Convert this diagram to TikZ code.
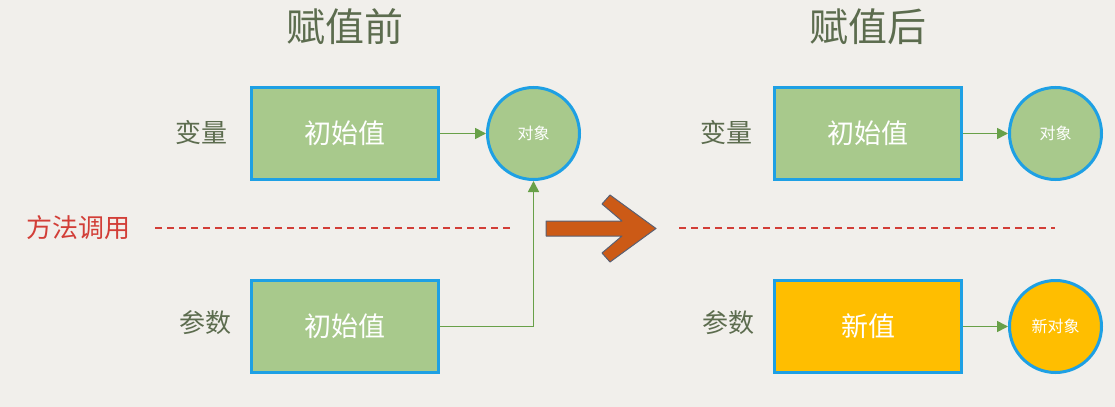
\documentclass[tikz,border=0pt]{standalone}
\usepackage{fontspec}
\setmainfont{Noto Sans CJK SC}
\usetikzlibrary{arrows.meta,positioning}

\definecolor{bgcol}{RGB}{241,239,235}
\definecolor{boxgreen}{RGB}{168,201,140}
\definecolor{boxblue}{RGB}{30,160,228}
\definecolor{boxorange}{RGB}{255,190,0}
\definecolor{labcol}{RGB}{92,108,78}
\definecolor{callred}{RGB}{210,62,55}
\definecolor{linkgreen}{RGB}{104,160,72}
\definecolor{bigorange}{RGB}{204,90,22}
\definecolor{bigedge}{RGB}{90,96,115}

\begin{document}
\begin{tikzpicture}[x=0.5pt,y=-0.5pt,
    valbox/.style={rectangle,draw=boxblue,line width=1.5pt,fill=boxgreen,
      minimum width=93.5pt,minimum height=46pt,text=white,
      font=\fontsize{13.5}{15}\selectfont},
    objcirc/.style={circle,draw=boxblue,line width=1.5pt,fill=boxgreen,
      minimum size=46pt,inner sep=0pt,text=white,
      font=\fontsize{8}{9}\selectfont},
    varlabel/.style={text=labcol,font=\fontsize{13}{14}\selectfont},
    title/.style={text=labcol,font=\fontsize{19.5}{21}\selectfont},
    link/.style={draw=linkgreen,line width=0.8pt,-{Triangle[length=5.5pt,width=5.5pt]}},
    divider/.style={draw=callred,line width=0.6pt,dash pattern=on 3.5pt off 2.5pt}]
  \useasboundingbox[fill=bgcol] (0,0) rectangle (1115,407);

  % before
  \node (tBefore)[title] at (345,27) {赋值前};
  \node (valA)[valbox] at (345,133.5) {初始值};
  \node (objA)[objcirc] [right=23pt of valA] {对象};
  \node (parA)[valbox] [below=49pt of valA] {初始值};
  \node (varA)[varlabel] at (201,133) {变量};
  \node (argA)[varlabel] at (205,323) {参数};
  \node (call)[text=callred,font=\fontsize{13}{14}\selectfont] at (78,228) {方法调用};
  \coordinate (dA1) at (155,228);
  \coordinate (dA2) at (511,228);

  % after
  \node (tAfter)[title] at (868,27) {赋值后};
  \node (valB)[valbox] at (868,133.5) {初始值};
  \node (objB)[objcirc] [right=22.5pt of valB] {对象};
  \node (parB)[valbox,fill=boxorange] [below=49pt of valB] {新值};
  \node (newB)[objcirc,fill=boxorange] [right=22.5pt of parB] {新对象};
  \node (varB)[varlabel] at (726,133) {变量};
  \node (argB)[varlabel] at (728,323) {参数};
  \coordinate (dB1) at (679,228);
  \coordinate (dB2) at (1055,228);

  \begin{scope}
    \draw[link] (valA) -- (objA);
    \draw[link] (parA) -| (objA);
    \draw[link] (valB) -- (objB);
    \draw[link] (parB) -- (newB);
    \draw[divider] (dA1) -- (dA2);
    \draw[divider] (dB1) -- (dB2);
  \end{scope}

  % big arrow
  \draw[fill=bigorange,draw=bigedge,line width=0.5pt,line join=round]
    (546,221) -- (622,221) -- (602,204) -- (610,195) -- (656,228.5)
    -- (610,262) -- (602,253) -- (622,236) -- (546,236) -- cycle;
\end{tikzpicture}
\end{document}
